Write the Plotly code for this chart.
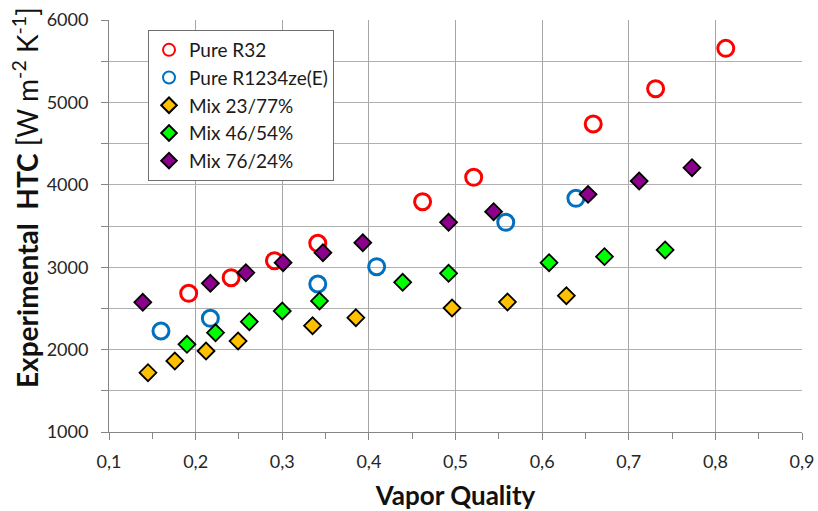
import plotly.graph_objects as go

# Data
r32_x = [0.192, 0.241, 0.291, 0.341, 0.462, 0.521, 0.659, 0.731, 0.812]
r32_y = [2683, 2873, 3079, 3290, 3795, 4091, 4738, 5166, 5656]

r1234_x = [0.160, 0.217, 0.341, 0.409, 0.558, 0.639]
r1234_y = [2226, 2380, 2796, 3006, 3545, 3836]

mix23_x = [0.145, 0.176, 0.212, 0.249, 0.335, 0.385, 0.496, 0.560, 0.628]
mix23_y = [1720, 1862, 1983, 2104, 2290, 2387, 2505, 2578, 2654]

mix46_x = [0.190, 0.223, 0.262, 0.300, 0.343, 0.439, 0.492, 0.608, 0.672, 0.742]
mix46_y = [2064, 2205, 2339, 2468, 2590, 2817, 2926, 3055, 3128, 3209]

mix76_x = [0.139, 0.217, 0.258, 0.301, 0.347, 0.393, 0.492, 0.544, 0.653, 0.712, 0.773]
mix76_y = [2574, 2805, 2933, 3055, 3176, 3297, 3545, 3674, 3884, 4046, 4208]

x_ticks = [0.1, 0.2, 0.3, 0.4, 0.5, 0.6, 0.7, 0.8, 0.9]
y_ticks = [1000, 2000, 3000, 4000, 5000, 6000]

FONT = "Lato"

fig = go.Figure()

def circle_trace(x, y, name, color):
    return go.Scatter(
        x=x, y=y, mode="markers", name=name, cliponaxis=False,
        marker=dict(symbol="circle-open", size=16, color=color,
                    line=dict(width=3, color=color)),
    )

def diamond_trace(x, y, name, color):
    return go.Scatter(
        x=x, y=y, mode="markers", name=name, cliponaxis=False,
        marker=dict(symbol="diamond", size=13, color=color,
                    line=dict(width=1.8, color="black")),
    )

fig.add_trace(circle_trace(r32_x, r32_y, "Pure R32", "#FF0000"))
fig.add_trace(circle_trace(r1234_x, r1234_y, "Pure R1234ze(E)", "#0070C0"))
fig.add_trace(diamond_trace(mix23_x, mix23_y, "Mix 23/77%", "#FFC000"))
fig.add_trace(diamond_trace(mix46_x, mix46_y, "Mix 46/54%", "#00FF00"))
fig.add_trace(diamond_trace(mix76_x, mix76_y, "Mix 76/24%", "#8B008B"))

# body margin is removed in the page (post_script), so figure fills the window
W, H = 818, 511
L, T = 109, 20
R = W - 802
B = H - 432
pw, ph = W - L - R, H - T - B

def px_x(px):
    return (px - L) / pw

def px_y(py):
    return (H - B - py) / ph

fig.update_layout(
    width=W, height=H,
    margin=dict(l=L, r=R, t=T, b=B, autoexpand=False),
    paper_bgcolor="white", plot_bgcolor="white",
    separators=", ",
    font=dict(family=FONT, size=18, color="#262626"),
    showlegend=True,
    legend=dict(
        x=px_x(148), y=px_y(30),
        xanchor="left", yanchor="top",
        bgcolor="white", bordercolor="#6f6f6f", borderwidth=1,
        font=dict(family=FONT, size=19, color="#1a1a1a"),
        itemsizing="constant",
        tracegroupgap=0,
    ),
    xaxis=dict(
        range=[0.1, 0.9], tickvals=x_ticks,
        ticktext=[f"{v:.1f}".replace(".", ",") for v in x_ticks],
        automargin=False,
        showgrid=True, gridcolor="#A6A6A6", gridwidth=1,
        showline=True, linecolor="#868686", linewidth=1,
        ticks="outside", ticklen=7, tickcolor="#868686",
        ticklabelstandoff=6,
        minor=dict(dtick=0.05, tick0=0.1, ticks="outside", ticklen=6,
                   tickcolor="#868686", showgrid=False),
        zeroline=False,
        tickfont=dict(family=FONT, size=18, color="#262626"),
        title=dict(text="<b>Vapor Quality</b>",
                   font=dict(family=FONT, size=26, color="#111111"),
                   standoff=16),
    ),
    yaxis=dict(
        range=[1000, 6000], tickvals=y_ticks,
        automargin=False,
        showgrid=True, gridcolor="#B0B0B0", gridwidth=1,
        showline=True, linecolor="#868686", linewidth=1,
        ticks="outside", ticklen=7, tickcolor="#868686",
        ticklabelstandoff=9,
        minor=dict(dtick=500, tick0=1000, ticks="outside", ticklen=7,
                   tickcolor="#868686", showgrid=True, gridcolor="#B0B0B0"),
        zeroline=False,
        tickfont=dict(family=FONT, size=18, color="#262626"),
    ),
    annotations=[dict(
        text="<b>Experimental  HTC</b> [W m<sup>-2</sup> K<sup>-1</sup>]",
        textangle=-90, xref="paper", yref="paper",
        x=px_x(25), y=px_y(198),
        xanchor="center", yanchor="middle", showarrow=False,
        font=dict(family=FONT, size=28, color="#111111"),
    )],
)

fig.write_html(
    "out.html",
    config={"displayModeBar": False},
    post_script="document.body.style.margin='0';document.body.style.overflow='hidden';",
)
